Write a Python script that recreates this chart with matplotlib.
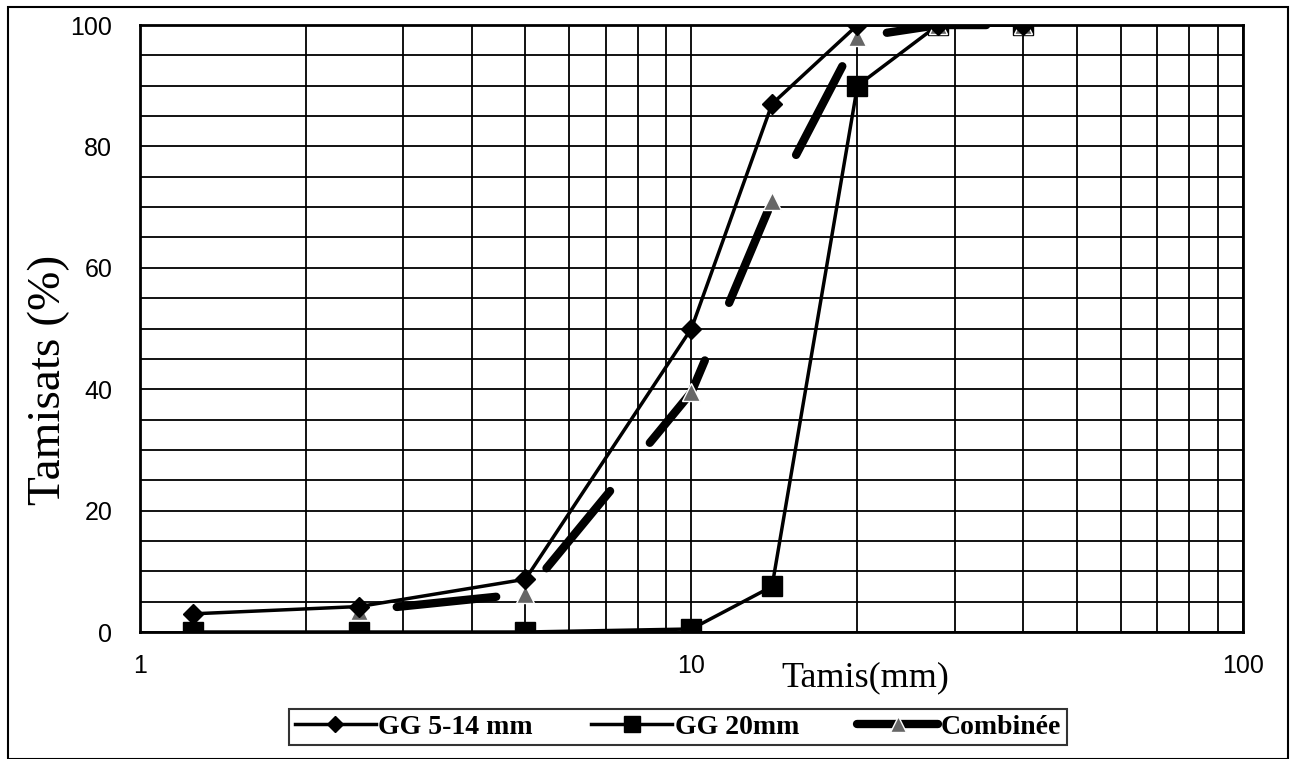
import numpy as np
import matplotlib.pyplot as plt
from matplotlib.patches import Rectangle
from matplotlib.lines import Line2D
from matplotlib.ticker import LogLocator, MultipleLocator, FixedLocator, NullFormatter

# sieve sizes (mm)
tamis = [1.25, 2.5, 5, 10, 14, 20, 28, 40]
gg_5_14 = [3, 4.2, 8.7, 50, 87, 100, 100, 100]
gg_20 = [0, 0, 0, 0.5, 7.5, 90, 100, 100]
tamis_comb = [2.5, 5, 10, 14, 20, 28, 40]
combinee = [3.5, 6.3, 39.5, 71, 98, 100, 100]

serif = ['Liberation Serif', 'DejaVu Serif']
sans = ['Liberation Sans', 'DejaVu Sans']

fig = plt.figure(figsize=(12.9, 7.59), dpi=100)
ax = fig.add_axes([0.1085, 0.1673, 0.855, 0.7997])

ax.plot(tamis_comb, combinee, color='black', lw=6, linestyle=(15, (12, 7.5)),
        dash_capstyle='round', marker='^', ms=13, mfc='0.4', mec='white',
        mew=1, zorder=3)
l1, = ax.plot(tamis, gg_5_14, color='black', lw=2.5, marker='D', ms=10,
              label='GG 5-14 mm', zorder=4)
l2, = ax.plot(tamis, gg_20, color='black', lw=2.5, marker='s', ms=14,
              label='GG 20mm', zorder=2)
# solid proxy for the legend, as in the original
l3 = Line2D([], [], color='black', lw=6, solid_capstyle='round', marker='^',
            ms=13, mfc='0.4', mec='white', mew=1, label='Combinée')

ax.set_xscale('log')
ax.set_xlim(1, 100)
ax.set_ylim(0, 100)
ax.xaxis.set_major_locator(FixedLocator([1, 10, 100]))
ax.xaxis.set_minor_locator(LogLocator(base=10, subs=np.arange(2, 10)))
ax.xaxis.set_minor_formatter(NullFormatter())
ax.set_xticklabels(['1', '10', '100'])
ax.yaxis.set_major_locator(MultipleLocator(20))
ax.yaxis.set_minor_locator(MultipleLocator(5))
ax.grid(True, which='both', color='black', lw=1.3)
ax.set_axisbelow(True)
ax.tick_params(which='both', length=0)
ax.tick_params(axis='x', pad=16)
ax.tick_params(axis='y', pad=20)
for lbl in ax.get_xticklabels() + ax.get_yticklabels():
    lbl.set_fontfamily(sans)
    lbl.set_fontsize(18)
for s in ax.spines.values():
    s.set_linewidth(2)

ax.set_ylabel('Tamisats (%)', fontsize=34, family=serif)
ax.yaxis.set_label_coords(-0.063, 0.415)
ax.set_xlabel('Tamis(mm)', fontsize=26, family=serif)
ax.xaxis.set_label_coords(0.658, -0.048)

leg = fig.legend(handles=[l1, l2, l3], loc='center',
                 bbox_to_anchor=(0.5256, 0.042), ncol=3, frameon=True,
                 fancybox=False, edgecolor='black', handlelength=2.9,
                 handletextpad=0.1, columnspacing=2.1, borderpad=0.2,
                 markerscale=0.85,
                 prop={'family': serif, 'weight': 'bold', 'size': 20})
leg.get_frame().set_linewidth(1.5)

fig.patches.append(Rectangle((8 / 1290, 0), 1280 / 1290, 1 - 7 / 759,
                             transform=fig.transFigure, fill=False,
                             edgecolor='black', lw=1.5))

fig.savefig('out.png', dpi=100)
